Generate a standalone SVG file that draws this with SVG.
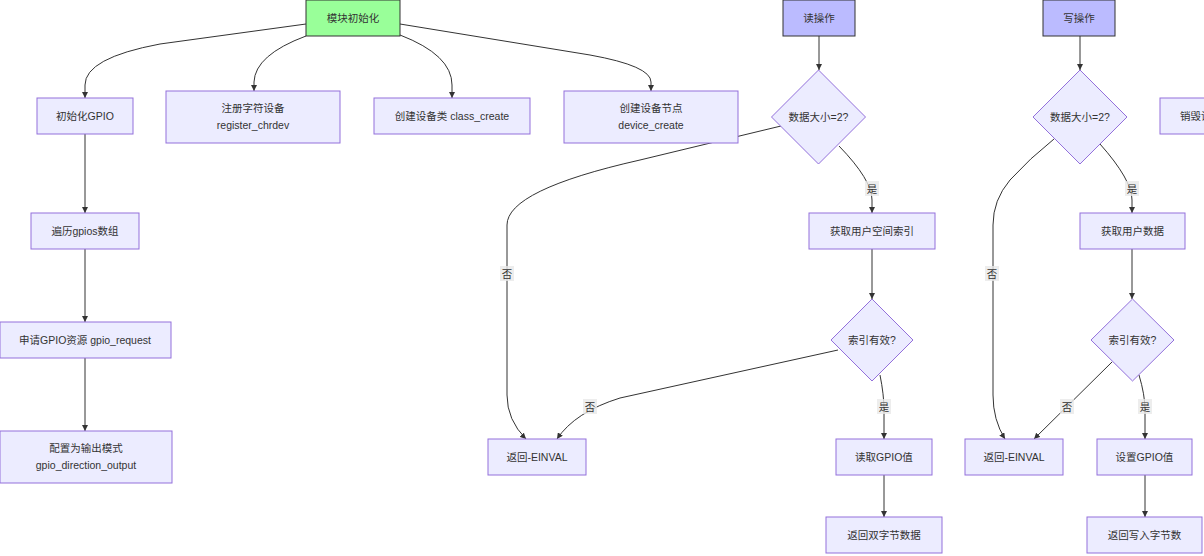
<svg xmlns="http://www.w3.org/2000/svg" width="1204" height="556" viewBox="0 0 1204 556">
<style>
.n{fill:#ECECFF;stroke:#9370DB;stroke-width:1}
.g{fill:#99ff99;stroke:#333333;stroke-width:1}
.b{fill:#bbbbff;stroke:#333333;stroke-width:1}
text{font-family:"Liberation Sans","Noto Sans CJK SC",sans-serif;font-size:10.5px;fill:#333333;text-anchor:middle;dominant-baseline:central}
.e{fill:none;stroke:#333333;stroke-width:1}
.lb{fill:#e8e8e8;fill-opacity:0.8}
</style>
<defs>
<marker id="arr" viewBox="0 0 10 10" refX="10" refY="5" markerWidth="6" markerHeight="6" markerUnits="userSpaceOnUse" orient="auto">
<path d="M0,0 L10,5 L0,10 z" fill="#333333"/>
</marker>
</defs>
<g id="connectors">
<path class="e" marker-end="url(#arr)" d="M306,24 L160,44 Q85,58 85,85 L85,98"/>
<path class="e" marker-end="url(#arr)" d="M306,36 Q255,55 254,82 L254,91"/>
<path class="e" marker-end="url(#arr)" d="M400,35 Q452,55 452,85 L452,98"/>
<path class="e" marker-end="url(#arr)" d="M400,24 L590,55 Q651,66 651,82 L651,91"/>
<path class="e" marker-end="url(#arr)" d="M85,134 L85,213"/>
<path class="e" marker-end="url(#arr)" d="M85,249 L85,322"/>
<path class="e" marker-end="url(#arr)" d="M85,358 L85,431"/>
<path class="e" marker-end="url(#arr)" d="M819,36 L819,70"/>
<path class="e" marker-end="url(#arr)" d="M1080,36 L1080,70"/>
<path class="e" marker-end="url(#arr)" d="M781,126 L640,160 Q507,190 507,225 L507,395 Q507,420 526,439"/>
<path class="e" marker-end="url(#arr)" d="M839,146 Q872,180 872,200 L872,213"/>
<path class="e" marker-end="url(#arr)" d="M872,249 L872,299"/>
<path class="e" marker-end="url(#arr)" d="M838,350 L620,398 Q575,412 557,439"/>
<path class="e" marker-end="url(#arr)" d="M880,375 Q884,395 884,410 L884,439"/>
<path class="e" marker-end="url(#arr)" d="M884,475 L884,517"/>
<path class="e" marker-end="url(#arr)" d="M1054,139 Q1030,158 1010,180 Q993,200 993,225 L993,395 Q993,420 1005,439"/>
<path class="e" marker-end="url(#arr)" d="M1100,144 Q1132,180 1132,200 L1132,213"/>
<path class="e" marker-end="url(#arr)" d="M1132,249 L1132,299"/>
<path class="e" marker-end="url(#arr)" d="M1112,362 L1034,439"/>
<path class="e" marker-end="url(#arr)" d="M1139,375 Q1145,395 1145,410 L1145,439"/>
<path class="e" marker-end="url(#arr)" d="M1145,475 L1145,517"/>
<g id="edge-labels">
<rect class="lb" x="500" y="266" width="14" height="15"/><text x="507" y="273.5">否</text>
<rect class="lb" x="865" y="181" width="14" height="15"/><text x="872" y="188.5">是</text>
<rect class="lb" x="583" y="399" width="14" height="15"/><text x="590" y="406.5">否</text>
<rect class="lb" x="877" y="399" width="14" height="15"/><text x="884" y="406.5">是</text>
<rect class="lb" x="985" y="266" width="14" height="15"/><text x="992" y="273.5">否</text>
<rect class="lb" x="1125" y="181" width="14" height="15"/><text x="1132" y="188.5">是</text>
<rect class="lb" x="1060" y="399" width="14" height="15"/><text x="1067" y="406.5">否</text>
<rect class="lb" x="1138" y="399" width="14" height="15"/><text x="1145" y="406.5">是</text>
</g>
</g>
<g id="init"><rect class="g" x="306" y="0" width="94" height="36"/><text x="353" y="18">模块初始化</text></g>
<g id="read"><rect class="b" x="783" y="0" width="72" height="36"/><text x="819" y="18">读操作</text></g>
<g id="write"><rect class="b" x="1043" y="0" width="72" height="36"/><text x="1079" y="18">写操作</text></g>
<g id="gpioInit"><rect class="n" x="37" y="98" width="96" height="36"/><text x="85" y="116">初始化GPIO</text></g>
<g id="regChr"><rect class="n" x="166" y="91" width="174" height="52"/><text x="253" y="108">注册字符设备</text><text x="253" y="125">register_chrdev</text></g>
<g id="classCreate"><rect class="n" x="374" y="98" width="156" height="36"/><text x="452" y="116">创建设备类 class_create</text></g>
<g id="devCreate"><rect class="n" x="564" y="91" width="174" height="52"/><text x="651" y="108">创建设备节点</text><text x="651" y="125">device_create</text></g>
<g id="destroy"><rect class="n" x="1160" y="98" width="120" height="36"/><text x="1180" y="116" style="text-anchor:start">销毁设备</text></g>
<g id="iterate"><rect class="n" x="31" y="213" width="108" height="36"/><text x="85" y="231">遍历gpios数组</text></g>
<g id="request"><rect class="n" x="0" y="322" width="171" height="36"/><text x="85" y="340">申请GPIO资源 gpio_request</text></g>
<g id="direction"><rect class="n" x="0" y="431" width="172" height="52"/><text x="86" y="448">配置为输出模式</text><text x="86" y="465">gpio_direction_output</text></g>
<g id="rSize"><polygon class="n" points="818.5,70 865.5,117 818.5,164 771.5,117"/><text x="818.5" y="117">数据大小=2?</text></g>
<g id="rIdx"><rect class="n" x="809" y="213" width="126" height="36"/><text x="872" y="231">获取用户空间索引</text></g>
<g id="rValid"><polygon class="n" points="872,299 913,340 872,381 831,340"/><text x="872" y="340">索引有效?</text></g>
<g id="rErr"><rect class="n" x="488" y="439" width="98" height="36"/><text x="537" y="457">返回-EINVAL</text></g>
<g id="rGet"><rect class="n" x="836" y="439" width="96" height="36"/><text x="884" y="457">读取GPIO值</text></g>
<g id="rRet"><rect class="n" x="826" y="517" width="116" height="36"/><text x="884" y="535">返回双字节数据</text></g>
<g id="wSize"><polygon class="n" points="1080,70 1127,117 1080,164 1033,117"/><text x="1080" y="117">数据大小=2?</text></g>
<g id="wData"><rect class="n" x="1080" y="213" width="105" height="36"/><text x="1132.5" y="231">获取用户数据</text></g>
<g id="wValid"><polygon class="n" points="1132.5,299 1174,340 1132.5,381 1091,340"/><text x="1132.5" y="340">索引有效?</text></g>
<g id="wErr"><rect class="n" x="965" y="439" width="98" height="36"/><text x="1014" y="457">返回-EINVAL</text></g>
<g id="wSet"><rect class="n" x="1097" y="439" width="95" height="36"/><text x="1144.5" y="457">设置GPIO值</text></g>
<g id="wRet"><rect class="n" x="1087" y="517" width="115" height="36"/><text x="1144.5" y="535">返回写入字节数</text></g>
</svg>
